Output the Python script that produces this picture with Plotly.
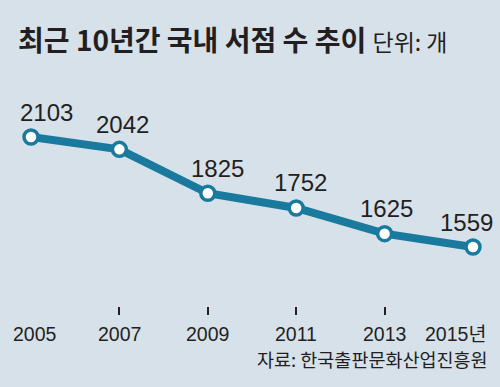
import plotly.graph_objects as go

years = [2005, 2007, 2009, 2011, 2013, 2015]
stores = [2103, 2042, 1825, 1752, 1625, 1559]
tick_labels = ["2005", "2007", "2009", "2011", "2013", "2015년"]
title_text = "최근 10년간 국내 서점 수 추이"
unit_text = "단위: 개"
source_text = "자료: 한국출판문화산업진흥원"

# style-only offsets for labels (pixels)
label_dx = [15, 3, 10, 4, 2, -7]
tick_dx = [4, 0, 0, 0, 0, 15]
tick_anchor = ["center", "center", "center", "center", "center", "right"]

BG = "#d7e1ea"
LINE = "#1a7a9e"
TXT = "#231f20"
NUM_FONT = "Liberation Sans, Arial, sans-serif"
KR_FONT = "Noto Sans CJK KR, sans-serif"

fig = go.Figure()
fig.add_trace(go.Scatter(
    x=years, y=stores, mode="lines+markers",
    line=dict(color=LINE, width=8),
    marker=dict(size=14, color="white", line=dict(color=LINE, width=3.5)),
    cliponaxis=False, hoverinfo="skip",
))

annotations = []
for x, v, dx in zip(years, stores, label_dx):
    annotations.append(dict(
        x=x, y=v, xref="x", yref="y", text=str(v), showarrow=False,
        xanchor="center", yanchor="middle", xshift=dx, yshift=25,
        font=dict(family=NUM_FONT, size=24, color=TXT),
    ))
for x, t, dx, a in zip(years, tick_labels, tick_dx, tick_anchor):
    annotations.append(dict(
        x=x, y=0, xref="x", yref="paper", text=t, showarrow=False,
        xanchor=a, yanchor="top", xshift=dx, yshift=-6,
        font=dict(family=NUM_FONT + ", " + KR_FONT, size=19.5, color=TXT),
    ))
annotations.append(dict(
    x=1, y=0, xref="paper", yref="paper", text=source_text, showarrow=False,
    xanchor="right", yanchor="middle", xshift=17, yshift=-44,
    font=dict(family=KR_FONT, size=18.5, color=TXT),
))

fig.update_layout(
    width=500, height=387,
    paper_bgcolor=BG, plot_bgcolor=BG,
    margin=dict(l=31, r=27, t=60, b=72),
    showlegend=False,
    title=dict(
        text="<b>" + title_text + "</b> <span style='font-size:23px;font-weight:normal'>" + unit_text + "</span>",
        x=0.036, xanchor="left", xref="container",
        y=1 - 41 / 387, yanchor="middle", yref="container",
        font=dict(family=KR_FONT, size=28, color=TXT),
    ),
    xaxis=dict(
        range=[2005, 2015], tickvals=years, showticklabels=False,
        ticks="inside", ticklen=8, tickwidth=1.5, tickcolor=TXT,
        showgrid=False, zeroline=False, showline=False, fixedrange=True,
    ),
    yaxis=dict(
        range=[1222.8, 2483.8], visible=False, showgrid=False, zeroline=False,
        fixedrange=True,
    ),
    annotations=annotations,
)

fig.write_html("out.html", config={"displayModeBar": False},
               post_script="document.body.style.margin='0';document.body.style.background='" + BG + "';")
